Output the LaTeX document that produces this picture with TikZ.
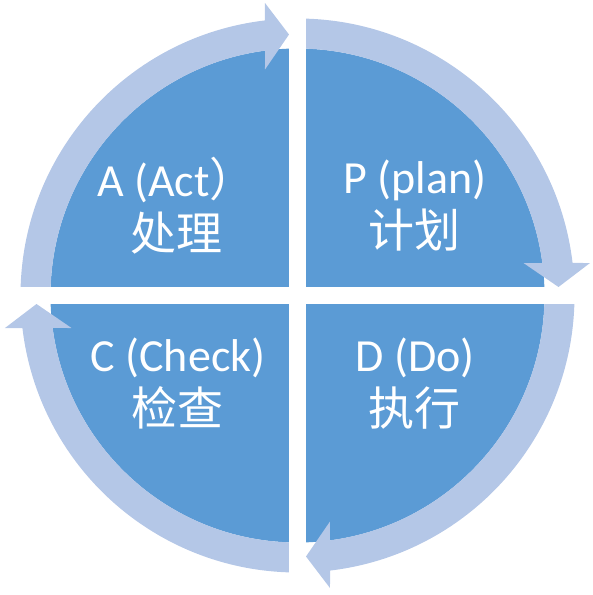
\documentclass[tikz,border=0pt]{standalone}
\usepackage{fontspec}
\setmainfont{Carlito}
\newfontfamily\cjk{Noto Sans CJK SC}
\usetikzlibrary{positioning}
\definecolor{DiskBlue}{RGB}{91,155,213}
\definecolor{RingBlue}{RGB}{180,199,231}

\begin{document}
\begin{tikzpicture}[x=1pt,y=1pt,
  quad/.style={text=white,align=center,font=\fontsize{46}{54}\selectfont}]
\useasboundingbox (-297.5,-299.5) rectangle (295.5,295.5);
\fill[DiskBlue] (0,0) circle[radius=247];
\foreach \a in {0,-90,-180,-270}
  \fill[RingBlue,rotate=\a] (180:277) arc[start angle=180,end angle=96.74,radius=277]
    -- (-32.5,292.5) -- (-8.5,261) -- (-32.5,226)
    -- (97.56:247) arc[start angle=97.56,end angle=180,radius=247] -- cycle;
\fill[white] (-8.5,-300) rectangle (8.5,300);
\fill[white] (-300,-8.5) rectangle (300,8.5);
\node[quad] (act) at (-121,90) {A (Act{\cjk ）}\\{\cjk 处理}};
\node[quad] (plan) at (117.5,90) {P (plan)\\{\cjk 计划}};
\node[quad] (check) at (-119.5,-88) {C (Check)\\{\cjk 检查}};
\node[quad] (do) at (117.5,-88) {D (Do)\\{\cjk 执行}};
\end{tikzpicture}
\end{document}
